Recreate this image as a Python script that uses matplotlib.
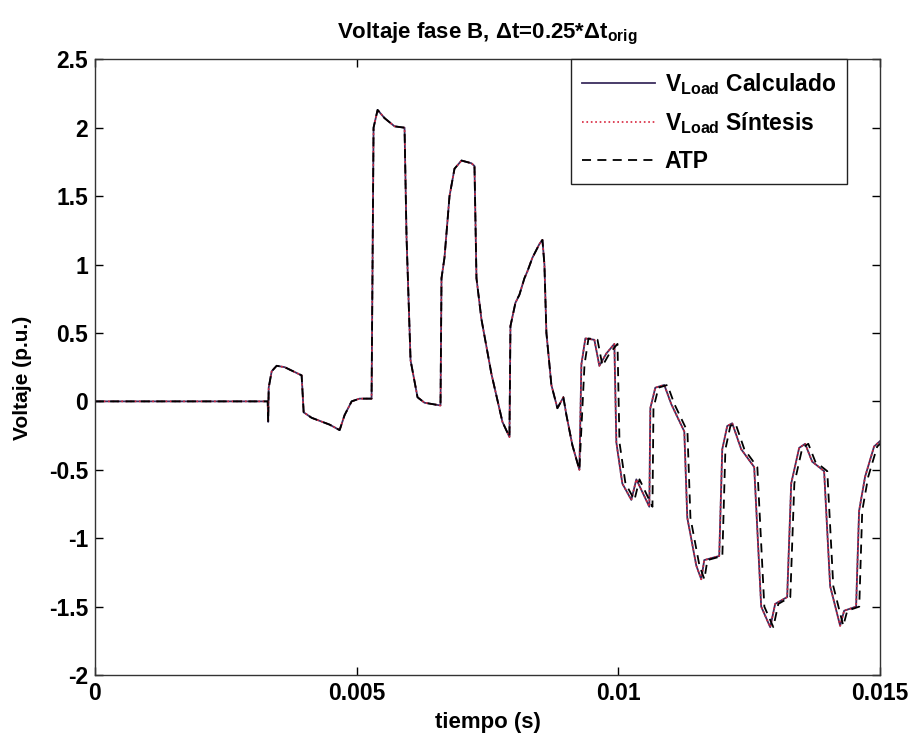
import numpy as np
import matplotlib
matplotlib.use("Agg")
import matplotlib.pyplot as plt

# fuente tipo Arial (como MATLAB), algo gruesa como en la imagen escaneada
plt.rcParams['font.family'] = ['Liberation Sans', 'DejaVu Sans']
plt.rcParams['font.weight'] = 'bold'
plt.rcParams['axes.titleweight'] = 'bold'
plt.rcParams['axes.labelweight'] = 'bold'
plt.rcParams['mathtext.fontset'] = 'custom'
plt.rcParams['mathtext.rm'] = 'Liberation Sans:bold'
plt.rcParams['mathtext.it'] = 'Liberation Sans:bold'
plt.rcParams['mathtext.bf'] = 'Liberation Sans:bold'

# tiempo en ms
t_calc_ms = [0, 3.302, 3.311, 3.321, 3.378, 3.473, 3.626, 3.950, 3.989, 4.141,
             4.485, 4.676, 4.771, 4.905, 5.057, 5.286, 5.324, 5.401, 5.534, 5.725,
             5.916, 5.954, 6.031, 6.164, 6.298, 6.603, 6.622, 6.679, 6.775, 6.870,
             7.004, 7.195, 7.252, 7.290, 7.385, 7.576, 7.786, 7.920, 7.939, 8.034,
             8.111, 8.206, 8.263, 8.359, 8.492, 8.550, 8.588, 8.626, 8.721, 8.836,
             8.950, 9.008, 9.122, 9.256, 9.294, 9.370, 9.542, 9.637, 9.771, 9.924,
             9.962, 10.076, 10.248, 10.344, 10.592, 10.611, 10.706, 10.878, 11.011, 11.260,
             11.317, 11.489, 11.584, 11.641, 11.927, 11.985, 12.080, 12.176, 12.347, 12.595,
             12.729, 12.901, 12.996, 13.225, 13.302, 13.454, 13.569, 13.702, 13.931, 14.046,
             14.237, 14.313, 14.542, 14.599, 14.714, 14.885, 15.0]

# ATP va un poco retrasado en la segunda mitad
t_atp_ms = [0, 3.302, 3.311, 3.321, 3.378, 3.473, 3.626, 3.950, 3.989, 4.141,
            4.485, 4.676, 4.771, 4.905, 5.057, 5.286, 5.324, 5.401, 5.534, 5.725,
            5.916, 5.954, 6.031, 6.164, 6.298, 6.603, 6.622, 6.679, 6.775, 6.870,
            7.004, 7.195, 7.252, 7.290, 7.385, 7.576, 7.786, 7.920, 7.939, 8.034,
            8.111, 8.206, 8.263, 8.359, 8.492, 8.550, 8.588, 8.626, 8.721, 8.836,
            8.950, 9.008, 9.122, 9.256, 9.354, 9.430, 9.602, 9.697, 9.831, 9.984,
            10.022, 10.136, 10.308, 10.404, 10.652, 10.671, 10.766, 10.938, 11.071, 11.320,
            11.377, 11.549, 11.644, 11.701, 11.987, 12.045, 12.140, 12.236, 12.407, 12.655,
            12.789, 12.961, 13.056, 13.285, 13.362, 13.514, 13.629, 13.762, 13.991, 14.106,
            14.297, 14.373, 14.602, 14.659, 14.774, 14.945, 15.06]

# voltaje en p.u.
v_load = [0, 0, -0.15, 0.1, 0.22, 0.26, 0.25, 0.19, -0.08, -0.12,
          -0.17, -0.21, -0.1, 0.0, 0.02, 0.02, 2.0, 2.13, 2.07, 2.01,
          2.0, 1.2, 0.3, 0.03, -0.01, -0.03, 0.9, 1.05, 1.5, 1.7,
          1.76, 1.74, 1.72, 0.9, 0.6, 0.2, -0.15, -0.26, 0.55, 0.72,
          0.78, 0.9, 0.95, 1.05, 1.15, 1.18, 1.0, 0.5, 0.12, -0.05,
          0.03, -0.1, -0.32, -0.5, 0.27, 0.46, 0.45, 0.26, 0.35, 0.42,
          -0.3, -0.6, -0.72, -0.57, -0.77, -0.05, 0.1, 0.12, -0.02, -0.22,
          -0.85, -1.2, -1.3, -1.16, -1.13, -0.35, -0.18, -0.16, -0.35, -0.48,
          -1.5, -1.65, -1.48, -1.43, -0.6, -0.34, -0.31, -0.44, -0.51, -1.35,
          -1.64, -1.53, -1.5, -0.8, -0.55, -0.33, -0.29]

xticks = [0, 0.005, 0.01, 0.015]
xticklabels = ['0', '0.005', '0.01', '0.015']
yticks = [-2, -1.5, -1, -0.5, 0, 0.5, 1, 1.5, 2, 2.5]
yticklabels = ['-2', '-1.5', '-1', '-0.5', '0', '0.5', '1', '1.5', '2', '2.5']

t_calc = np.array(t_calc_ms) * 1e-3
t_atp = np.array(t_atp_ms) * 1e-3

fig = plt.figure(figsize=(9.12, 7.41), dpi=100)
ax = fig.add_axes([0.104, 0.089, 0.861, 0.831])

ax.plot(t_calc, v_load, '-', color='#3b2d5e', lw=1.3, label=r'V$_{\mathrm{Load}}$ Calculado')
ax.plot(t_calc, v_load, ':', color='#d8243c', lw=1.2, label=r'V$_{\mathrm{Load}}$ Síntesis')
ax.plot(t_atp, v_load, '--', color='black', lw=1.3, dashes=(5, 3.5), label='ATP')

ax.set_xlim(0, 0.015)
ax.set_ylim(-2, 2.5)
ax.set_xticks(xticks)
ax.set_xticklabels(xticklabels)
ax.set_yticks(yticks)
ax.set_yticklabels(yticklabels)
ax.tick_params(direction='in', top=True, right=True, length=6, width=1,
               labelsize=16.5, pad=5)
for s in ax.spines.values():
    s.set_linewidth(1.0)
    s.set_color('#333333')

ax.set_xlabel('tiempo (s)', fontsize=16, labelpad=5)
ax.set_ylabel('Voltaje (p.u.)', fontsize=15)
ax.yaxis.set_label_coords(-0.08, 0.482)
ax.set_title(r'Voltaje fase B, $\Delta$t=0.25*$\Delta$t$_{\mathrm{orig}}$', fontsize=16, pad=15)

leg = ax.legend(loc='upper right', bbox_to_anchor=(0.958, 1.0), borderaxespad=0,
                fontsize=16.5, handlelength=3.2, fancybox=False, framealpha=1,
                edgecolor='#222222', borderpad=0.5, labelspacing=0.6, handletextpad=0.4)
leg.get_frame().set_linewidth(1.0)

fig.savefig('out.png', dpi=100)
